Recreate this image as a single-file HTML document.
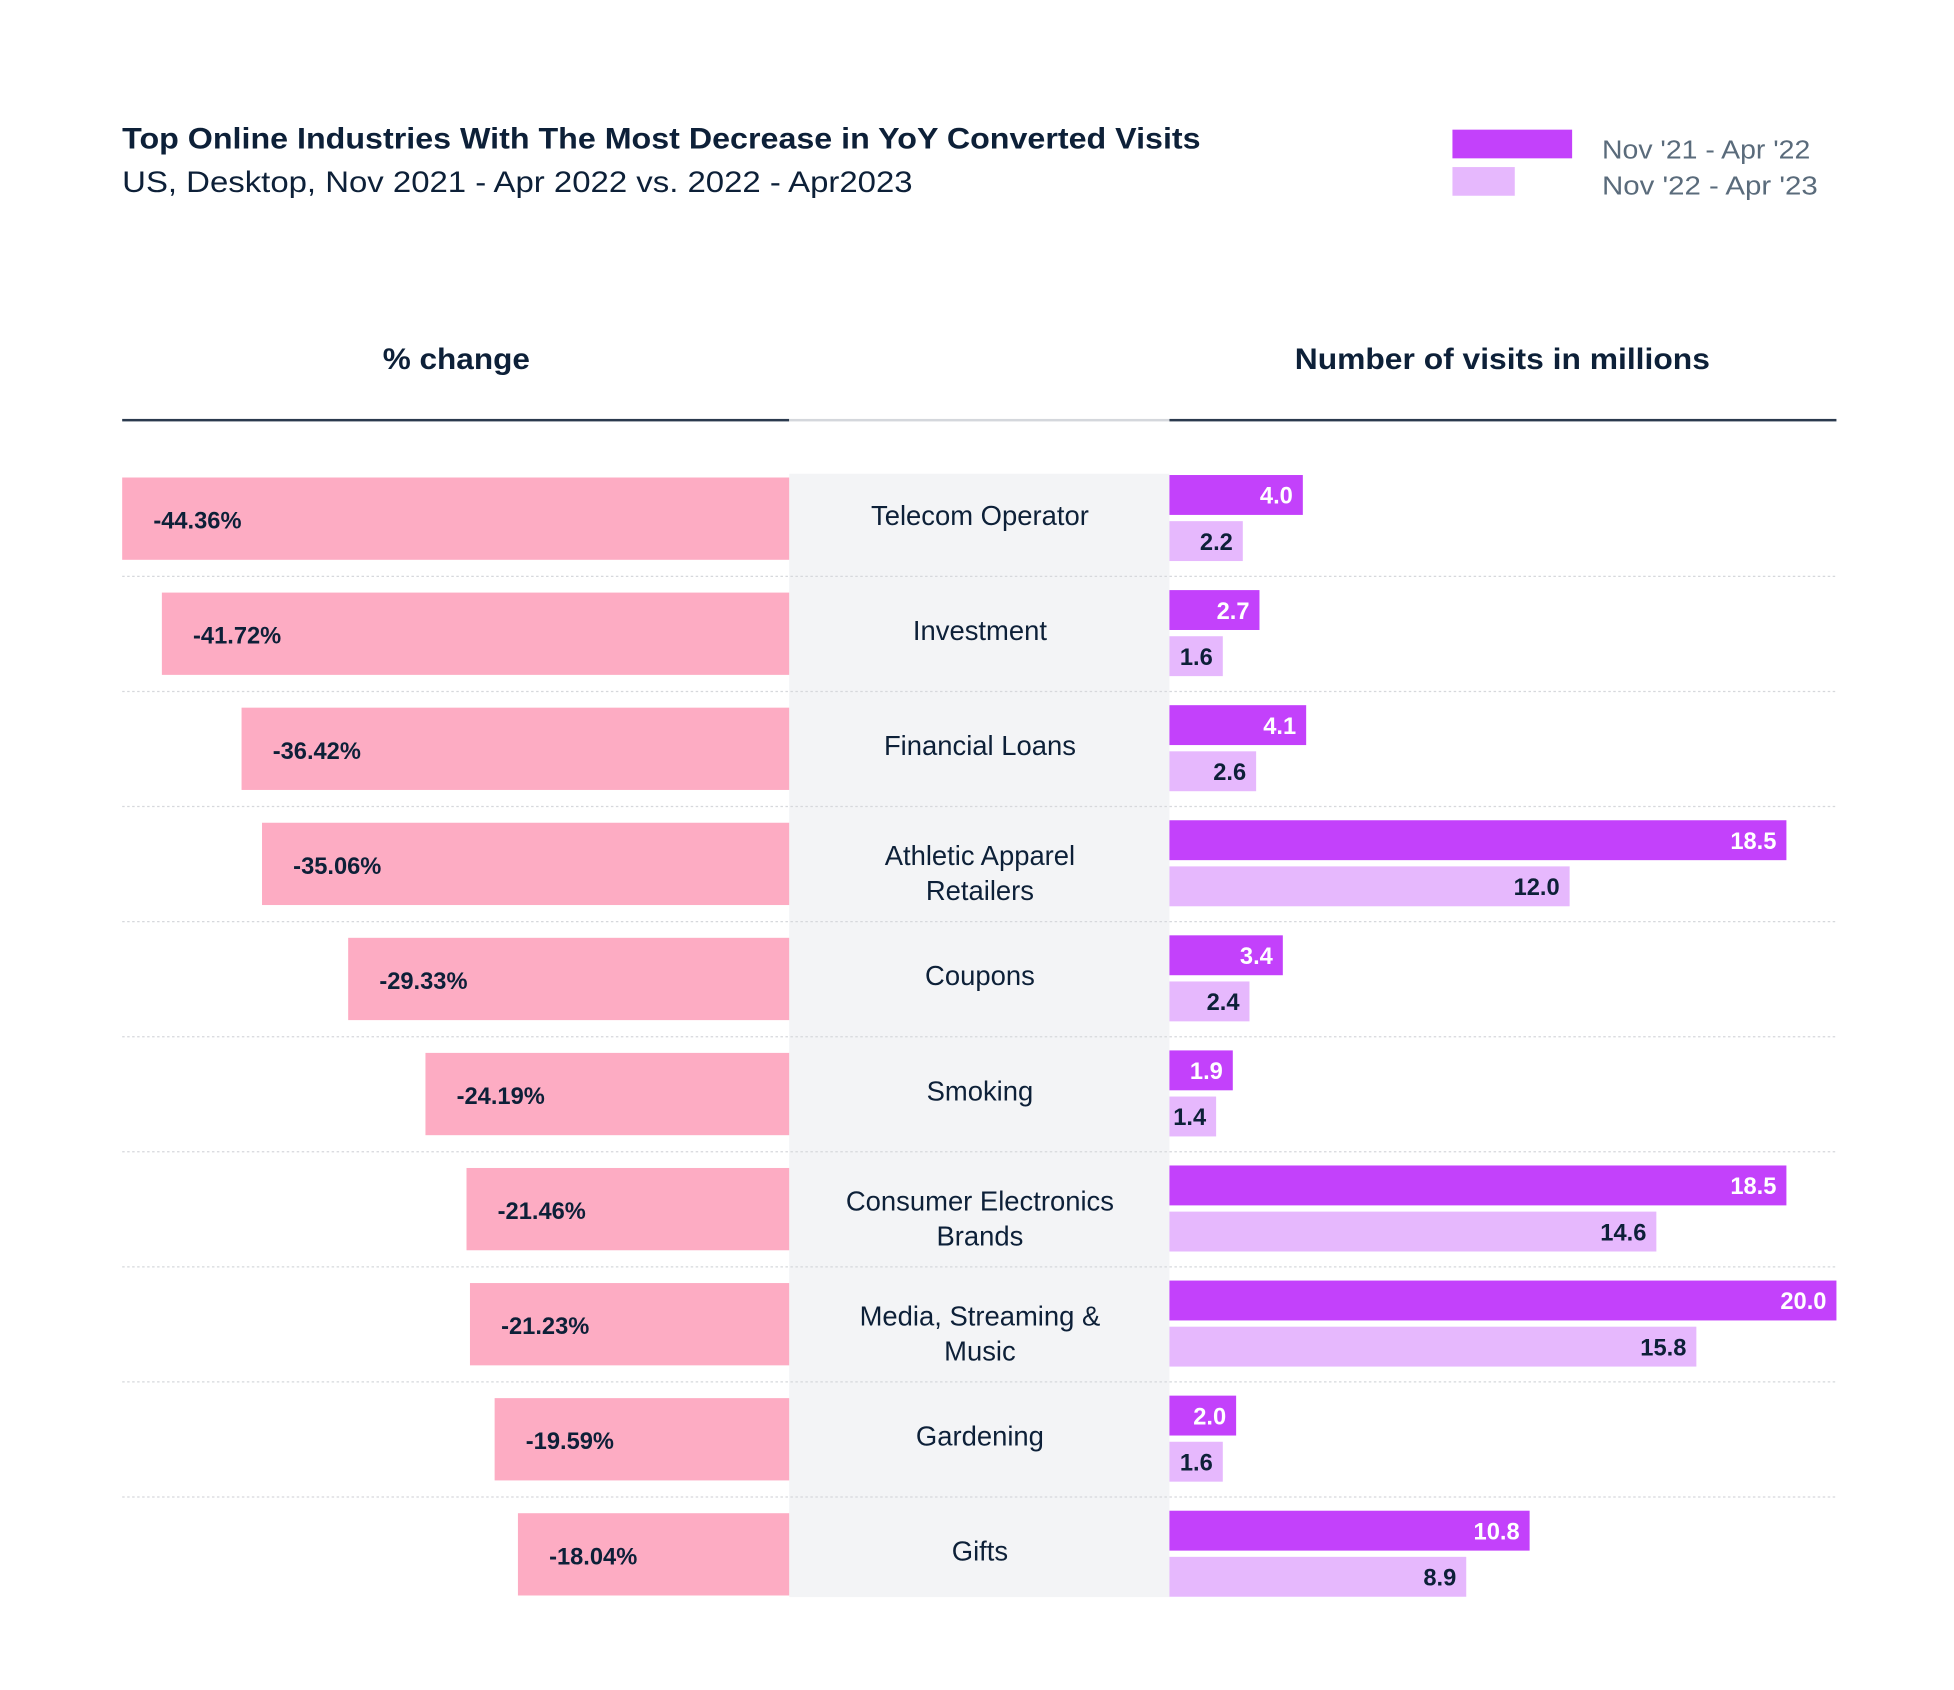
<!DOCTYPE html>
<html><head><meta charset="utf-8"><style>
html,body{margin:0;padding:0;background:#fff;}
svg{display:block;font-family:"Liberation Sans",sans-serif;}
</style></head><body>
<svg id="chart" width="1954" height="1690" viewBox="0 0 1567.3 1355.5" preserveAspectRatio="none" xmlns="http://www.w3.org/2000/svg">
<rect x="0" y="0" width="1570" height="1360" fill="#fff"/>
<text x="98" y="119" font-size="23.5" font-weight="bold" fill="#0d2038" textLength="865" lengthAdjust="spacingAndGlyphs">Top Online Industries With The Most Decrease in YoY Converted Visits</text>
<text x="98" y="154" font-size="24" fill="#0d2038" textLength="634" lengthAdjust="spacingAndGlyphs">US, Desktop, Nov 2021 - Apr 2022 vs. 2022 - Apr2023</text>
<g>
<rect x="1165" y="104" width="96" height="23" fill="#c341fb"/>
<rect x="1165" y="134" width="50" height="23" fill="#e6b8fd"/>
<text x="1285" y="127" font-size="21" fill="#5a6b7b" textLength="167" lengthAdjust="spacingAndGlyphs">Nov '21 - Apr '22</text>
<text x="1285" y="156" font-size="21" fill="#5a6b7b" textLength="173" lengthAdjust="spacingAndGlyphs">Nov '22 - Apr '23</text>
</g>
<text x="366" y="296" font-size="24" font-weight="bold" fill="#0d2038" text-anchor="middle" textLength="118" lengthAdjust="spacingAndGlyphs">% change</text>
<text x="1205" y="296" font-size="24" font-weight="bold" fill="#0d2038" text-anchor="middle" textLength="333" lengthAdjust="spacingAndGlyphs">Number of visits in millions</text>
<rect x="98" y="336" width="535" height="2" fill="#2b3a4e"/>
<rect x="633" y="336" width="305" height="2" fill="#d4d7dc"/>
<rect x="938" y="336" width="535" height="2" fill="#2b3a4e"/>
<rect x="633" y="380" width="305" height="901" fill="#f3f4f6"/>
<g id="rows"></g>
</svg>
<script>
const categories = [["Telecom Operator"],["Investment"],["Financial Loans"],["Athletic Apparel","Retailers"],["Coupons"],["Smoking"],["Consumer Electronics","Brands"],["Media, Streaming &","Music"],["Gardening"],["Gifts"]];
const pctChange = [-44.36,-41.72,-36.42,-35.06,-29.33,-24.19,-21.46,-21.23,-19.59,-18.04];
const visits2122 = [4.0,2.7,4.1,18.5,3.4,1.9,18.5,20.0,2.0,10.8];
const visits2223 = [2.2,1.6,2.6,12.0,2.4,1.4,14.6,15.8,1.6,8.9];

const NS = "http://www.w3.org/2000/svg";
const g = document.getElementById('rows');
const pctX = v => 633 + v * (535 / 44.36);
const visX = v => 938 + v * (535 / 20);
const rowY = i => 383 + i * 92.3;
function mk(tag, attrs, text) {
  const el = document.createElementNS(NS, tag);
  for (const k in attrs) el.setAttribute(k, attrs[k]);
  if (text !== undefined) el.textContent = text;
  g.appendChild(el);
  return el;
}
categories.forEach((cat, i) => {
  const y = rowY(i);
  if (i > 0) {
    const sep = mk('line', {x1: 98, x2: 1473, y1: y - 13, y2: y - 13, stroke: '#d6d8dc', 'stroke-width': 1, 'stroke-dasharray': '2 2'});
    
    
  }
  const x0 = pctX(pctChange[i]);
  const pb = mk('rect', {x: x0, y: y, width: 633 - x0, height: 66, fill: '#fdacc3'});
  
  
  const pl = mk('text', {x: x0 + 25, y: y + 41, 'font-size': 19, 'font-weight': 'bold', fill: '#0d2038'}, pctChange[i].toFixed(2) + '%');
  
  
  const cy = cat.length === 1 ? y + 38 : y + 34;
  cat.forEach((line, j) => {
    const t = mk('text', {x: 786, y: cy + j * 28, 'font-size': 22, fill: '#0d2038', 'text-anchor': 'middle'}, line);
    
    
  });
  const x1 = visX(visits2122[i]);
  const b1 = mk('rect', {x: 938, y: y - 2, width: x1 - 938, height: 32, fill: '#c341fb'});
  
  
  const l1 = mk('text', {x: x1 - 8, y: y + 21, 'font-size': 19, 'font-weight': 'bold', fill: '#fff', 'text-anchor': 'end'}, visits2122[i].toFixed(1));
  
  
  const x2 = visX(visits2223[i]);
  const b2 = mk('rect', {x: 938, y: y + 35, width: x2 - 938, height: 32, fill: '#e6b8fd'});
  
  
  const l2 = mk('text', {x: x2 - 8, y: y + 58, 'font-size': 19, 'font-weight': 'bold', fill: '#0d2038', 'text-anchor': 'end'}, visits2223[i].toFixed(1));
  
  
});
</script>
</body></html>
